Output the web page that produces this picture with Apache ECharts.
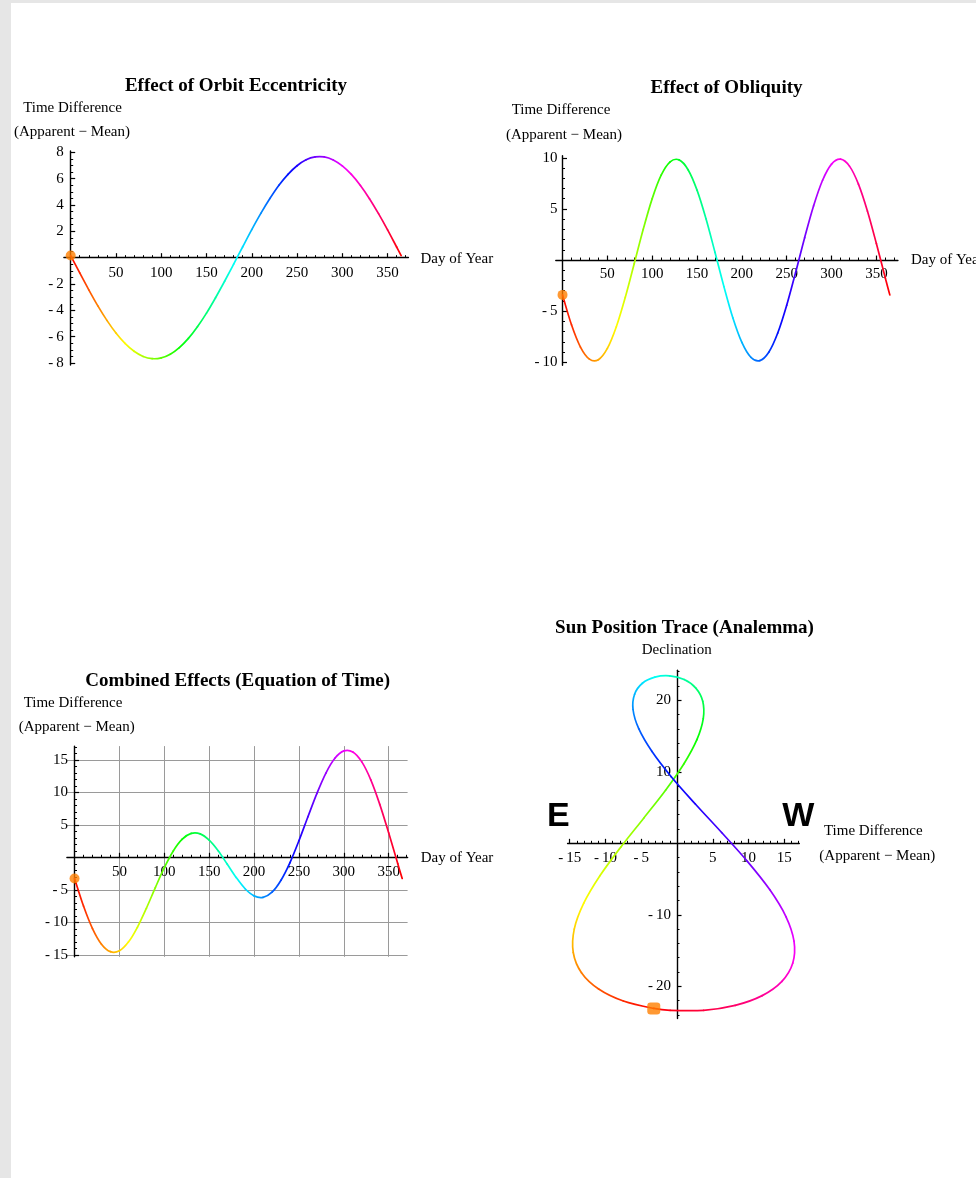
<!DOCTYPE html>
<html>
<head>
<meta charset="utf-8">
<title>Equation of Time</title>
<script src="https://cdn.jsdelivr.net/npm/echarts@6/dist/echarts.min.js"></script>
<style>
  html, body { margin: 0; padding: 0; background: #ffffff; }
  #chart { width: 976px; height: 1178px; }
</style>
</head>
<body>
<div id="chart"></div>
<script>
// Day of year at which each value is sampled
const days = [0, 10, 20, 30, 40, 50, 60, 70, 80, 90, 100, 110, 120, 130, 140, 150, 160, 170, 180,
  190, 200, 210, 220, 230, 240, 250, 260, 270, 280, 290, 300, 310, 320, 330, 340, 350, 360, 365];

// Time difference (apparent - mean, minutes) caused by the orbit's eccentricity
const eccentricity = [0.16, -1.16, -2.44, -3.66, -4.76, -5.72, -6.51, -7.11, -7.50, -7.67, -7.61,
  -7.33, -6.83, -6.13, -5.24, -4.21, -3.04, -1.79, -0.49, 0.83, 2.13, 3.36, 4.49, 5.50, 6.33,
  6.98, 7.43, 7.65, 7.65, 7.42, 6.97, 6.32, 5.48, 4.48, 3.34, 2.11, 0.81, 0.16];

// Time difference caused by the axis tilt (obliquity)
const obliquity = [-3.41, -6.34, -8.52, -9.70, -9.75, -8.65, -6.53, -3.65, -0.34, 3.01, 6.01,
  8.30, 9.61, 9.80, 8.84, 6.84, 4.04, 0.76, -2.60, -5.67, -8.06, -9.51, -9.84, -9.02, -7.14,
  -4.42, -1.19, 2.19, 5.31, 7.81, 9.39, 9.87, 9.19, 7.43, 4.80, 1.61, -1.77, -3.41];

// Combined effect: the equation of time
const equationOfTime = [-3.25, -7.50, -10.96, -13.36, -14.51, -14.37, -13.04, -10.76, -7.84,
  -4.66, -1.60, 0.97, 2.78, 3.67, 3.60, 2.63, 1.00, -1.03, -3.09, -4.84, -5.93, -6.15, -5.35,
  -3.52, -0.81, 2.56, 6.24, 9.84, 12.96, 15.23, 16.36, 16.19, 14.67, 11.91, 8.14, 3.72, -0.96, -3.25];

// Solar declination in degrees
const declination = [-23.09, -22.06, -20.38, -18.10, -15.27, -12.00, -8.38, -4.51, -0.50, 3.52,
  7.43, 11.13, 14.50, 17.44, 19.87, 21.71, 22.90, 23.42, 23.24, 22.39, 20.86, 18.72, 16.03,
  12.87, 9.32, 5.50, 1.51, -2.52, -6.47, -10.24, -13.69, -16.75, -19.31, -21.30, -22.66,
  -23.35, -23.35, -23.09];

// Labelled tick positions
const dayTicks = [50, 100, 150, 200, 250, 300, 350];
const eccTicks = [-8, -6, -4, -2, 2, 4, 6, 8];
const oblTicks = [-10, -5, 5, 10];
const eotTicks = [-15, -10, -5, 5, 10, 15];
const traceXTicks = [-15, -10, -5, 5, 10, 15];
const traceYTicks = [-20, -10, 10, 20];

const SERIF = '"Liberation Serif", "Times New Roman", Times, serif';
const SANS = '"Liberation Sans", Arial, Helvetica, sans-serif';
const DOT = '#ff8000';

// Panel frames (pixels) and the value range each axis spans
const frames = [
  { left: 63.9, top: 151.0, width: 344.5, height: 214.0 },
  { left: 555.8, top: 155.8, width: 342.1, height: 209.5 },
  { left: 66.9, top: 746.1, width: 340.7, height: 210.7 },
  { left: 567.6, top: 670.3, width: 231.7, height: 348.2 }
];
const xRanges = [[-7.5, 373], [-7.5, 374], [-8.5, 371], [-15.3, 17.1]];
const yRanges = [[-8.15, 8.1], [-10.3, 10.2], [-15.3, 17.1], [-24.5, 24.2]];

function hueColor(day) {
  return 'hsl(' + (day / 365 * 360).toFixed(2) + ',100%,50%)';
}
function tickText(v) {
  return v < 0 ? '-\u2009' + (-v) : String(v);
}

// Axes cross at the origin: shift each axis from the frame edge onto the other axis' zero
function valueAxis(dim, i, c) {
  const range = dim === 'x' ? xRanges[i] : yRanges[i];
  const other = dim === 'x' ? yRanges[i] : xRanges[i];
  const span = dim === 'x' ? frames[i].height : frames[i].width;
  const offset = -span * (0 - other[0]) / (other[1] - other[0]);
  return {
    type: 'value',
    gridIndex: i,
    min: range[0],
    max: range[1],
    minInterval: c.step,
    maxInterval: c.step,
    offset: offset,
    axisLine: { show: true, onZero: false, lineStyle: { color: '#000', width: 1.4 } },
    axisTick: {
      show: true, inside: true, length: 4.5, customValues: c.ticks,
      lineStyle: { color: '#000', width: 1.2 }
    },
    minorTick: {
      show: true, splitNumber: c.minor, length: 2.5,
      lineStyle: { color: '#000', width: 1 }
    },
    axisLabel: {
      show: true, customValues: c.ticks, formatter: tickText, margin: c.margin,
      fontFamily: SERIF, fontSize: 15, color: '#000'
    },
    splitLine: { show: !!c.grid, lineStyle: { color: '#9a9a9a', width: 1 } },
    minorSplitLine: { show: false },
    splitArea: { show: false }
  };
}

function text(str, x, y, font, align) {
  return {
    type: 'text', x: x, y: y, silent: true,
    style: {
      text: str, font: font, fill: '#000',
      align: align || 'center', verticalAlign: 'middle'
    }
  };
}

// A smooth curve through the yearly samples, coloured by day of year.
// Each piece between two samples is a cubic Hermite arc; the year wraps round at the ends.
function yearCurve(i, xs, ys, xIsDay) {
  const n = days.length;
  function sample(j) {
    let k = j, shift = 0;
    if (j < 0) { k = j + n - 1; shift = -365; }
    else if (j > n - 1) { k = j - (n - 1); shift = 365; }
    return { k: k, shift: shift };
  }
  return {
    type: 'custom', xAxisIndex: i, yAxisIndex: i, clip: false, silent: true,
    data: days.slice(0, -1).map((d, j) => [xs[j], ys[j], xs[j + 1], ys[j + 1]]),
    encode: { x: [0, 2], y: [1, 3] },
    renderItem: function (params, api) {
      const s = params.dataIndex;
      const pt = [], t = [];
      for (let j = s - 1; j <= s + 2; j++) {
        const r = sample(j);
        pt.push(api.coord([xs[r.k] + (xIsDay ? r.shift : 0), ys[r.k]]));
        t.push(days[r.k] + r.shift);
      }
      const h = t[2] - t[1];
      const m1 = [(pt[2][0] - pt[0][0]) / (t[2] - t[0]), (pt[2][1] - pt[0][1]) / (t[2] - t[0])];
      const m2 = [(pt[3][0] - pt[1][0]) / (t[3] - t[1]), (pt[3][1] - pt[1][1]) / (t[3] - t[1])];
      const p1 = pt[1], p2 = pt[2];
      return {
        type: 'bezierCurve',
        shape: {
          x1: p1[0], y1: p1[1], x2: p2[0], y2: p2[1],
          cpx1: p1[0] + m1[0] * h / 3, cpy1: p1[1] + m1[1] * h / 3,
          cpx2: p2[0] - m2[0] * h / 3, cpy2: p2[1] - m2[1] * h / 3
        },
        style: {
          fill: 'none',
          lineWidth: 1.7,
          lineCap: 'round',
          stroke: {
            type: 'linear', global: true,
            x: p1[0], y: p1[1], x2: p2[0] + 0.001, y2: p2[1],
            colorStops: [
              { offset: 0, color: hueColor(days[s]) },
              { offset: 1, color: hueColor(days[s + 1]) }
            ]
          }
        }
      };
    }
  };
}

function startDot(i, x, y, symbol, size) {
  return {
    type: 'scatter', xAxisIndex: i, yAxisIndex: i, z: 5, silent: true,
    data: [[x, y]], symbol: symbol, symbolSize: size, itemStyle: { color: DOT }
  };
}

const TITLE = 'bold 19px ' + SERIF;
const LABEL = '15px ' + SERIF;
const BIG = 'bold 34px ' + SANS;

const option = {
  backgroundColor: '#ffffff',
  animation: false,
  grid: frames.map(f => Object.assign({ containLabel: false, outerBoundsMode: 'none' }, f)),
  xAxis: [
    valueAxis('x', 0, { step: 50, ticks: dayTicks, minor: 5, margin: 8 }),
    valueAxis('x', 1, { step: 50, ticks: dayTicks, minor: 5, margin: 6.5 }),
    valueAxis('x', 2, { step: 50, ticks: dayTicks, minor: 5, margin: 7.5, grid: true }),
    valueAxis('x', 3, { step: 5, ticks: traceXTicks, minor: 5, margin: 7.5 })
  ],
  yAxis: [
    valueAxis('y', 0, { step: 2, ticks: eccTicks, minor: 4, margin: 7 }),
    valueAxis('y', 1, { step: 5, ticks: oblTicks, minor: 5, margin: 5 }),
    valueAxis('y', 2, { step: 5, ticks: eotTicks, minor: 5, margin: 6.5, grid: true }),
    valueAxis('y', 3, { step: 10, ticks: traceYTicks, minor: 5, margin: 6 })
  ],
  series: [
    yearCurve(0, days, eccentricity, true),
    yearCurve(1, days, obliquity, true),
    yearCurve(2, days, equationOfTime, true),
    yearCurve(3, equationOfTime, declination, false),
    startDot(0, days[0], eccentricity[0], 'circle', 10),
    startDot(1, days[0], obliquity[0], 'circle', 10),
    startDot(2, days[0], equationOfTime[0], 'circle', 10),
    startDot(3, equationOfTime[0], declination[0], 'roundRect', [13, 12])
  ],
  graphic: [
    { type: 'rect', silent: true, z: -10, shape: { x: 0, y: 0, width: 11, height: 1178 }, style: { fill: '#e6e6e6' } },
    { type: 'rect', silent: true, z: -10, shape: { x: 0, y: 0, width: 976, height: 3 }, style: { fill: '#e6e6e6' } },

    text('Effect of Orbit Eccentricity', 236, 86.3, TITLE),
    text('Time Difference', 72.5, 108.3, LABEL),
    text('(Apparent \u2212 Mean)', 72, 132.3, LABEL),
    text('Day of Year', 420.5, 259.3, LABEL, 'left'),

    text('Effect of Obliquity', 726.5, 88, TITLE),
    text('Time Difference', 561, 110, LABEL),
    text('(Apparent \u2212 Mean)', 564, 135, LABEL),
    text('Day of Year', 911, 260, LABEL, 'left'),

    text('Combined Effects (Equation of Time)', 237.7, 681, TITLE),
    text('Time Difference', 73, 702.7, LABEL),
    text('(Apparent \u2212 Mean)', 76.7, 727.5, LABEL),
    text('Day of Year', 420.7, 858.5, LABEL, 'left'),

    text('Sun Position Trace (Analemma)', 684.5, 628, TITLE),
    text('Declination', 676.7, 650, LABEL),
    text('E', 558.3, 816.5, BIG),
    text('W', 798.3, 816.5, BIG),
    text('Time Difference', 873.3, 831, LABEL),
    text('(Apparent \u2212 Mean)', 877.3, 855.6, LABEL)
  ]
};

const chart = echarts.init(document.getElementById('chart'), null, { renderer: 'canvas' });
chart.setOption(option);
</script>
</body>
</html>
